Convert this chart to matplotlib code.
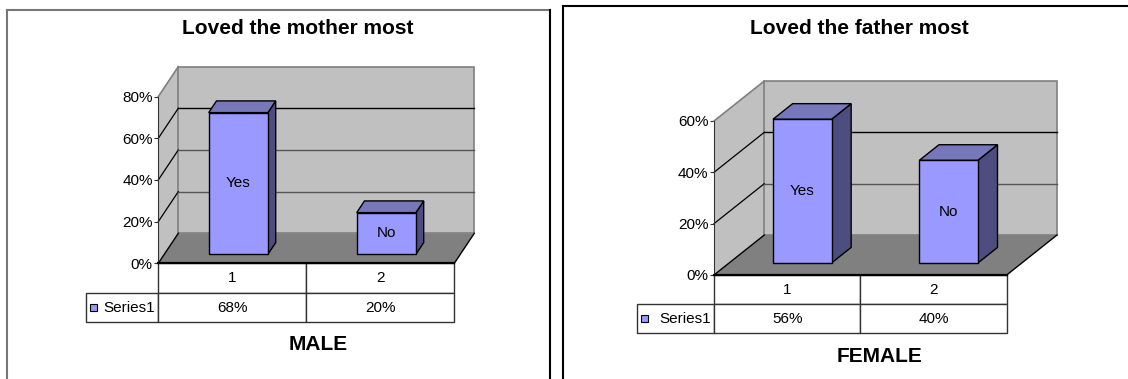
import matplotlib
matplotlib.use('Agg')
import matplotlib.pyplot as plt
from matplotlib.patches import Polygon, Rectangle
from matplotlib.lines import Line2D

plt.rcParams['font.family'] = ['Liberation Sans', 'DejaVu Sans']

# data
categories = ['1', '2']
bar_labels = ['Yes', 'No']
series_name = 'Series1'
male_values = [68, 20]
female_values = [56, 40]
male_ticks = [0, 20, 40, 60, 80]
female_ticks = [0, 20, 40, 60]
male_title = 'Loved the mother most'
female_title = 'Loved the father most'
male_caption = 'MALE'
female_caption = 'FEMALE'

W, H = 1128, 379

FRONT = '#9999FF'
TOP = '#7777BB'
SIDE = '#4D4D80'
WALL = '#C0C0C0'
FLOOR = '#808080'
EDGE = '#808080'


def px_rect(x_left, y_zero, x_right, y_top):
	# pixel box of the front plane -> figure fraction
	return [x_left / W, 1 - y_zero / H, (x_right - x_left) / W, (y_zero - y_top) / H]


def fig_line(fig, xs, ys, color, lw=1.5):
	fig.add_artist(Line2D([x / W for x in xs], [1 - y / H for y in ys],
		transform=fig.transFigure, color=color, lw=lw))


def DrawChart(fig, rect, values, ticks, dx, dy, row_px, legend_px):

	ax = fig.add_axes(rect)
	n = len(values)
	ymax = ticks[-1]
	ax.set_xlim(0, n)
	ax.set_ylim(0, ymax)
	ax.patch.set_visible(False)
	for s in ['top', 'right', 'bottom']:
		ax.spines[s].set_visible(False)
	ax.spines['left'].set_color('#333333')
	ax.spines['left'].set_zorder(6)
	ax.set_xticks([])
	ax.set_yticks(ticks)
	ax.set_yticklabels(['%d%%' % t for t in ticks])
	ax.tick_params(axis='y', length=3, direction='out', labelsize=11, pad=1, color='#333333')

	kw = dict(clip_on=False)

	# walls and floor
	ax.add_patch(Polygon([(0, 0), (0, ymax), (dx, ymax + dy), (dx, dy)], fc=WALL, ec='none', zorder=1, **kw))
	ax.add_patch(Polygon([(dx, dy), (dx, ymax + dy), (n + dx, ymax + dy), (n + dx, dy)], fc=WALL, ec=EDGE, lw=1.2, zorder=1, **kw))
	ax.plot([0, dx], [ymax, ymax + dy], color=EDGE, lw=1.2, zorder=2, **kw)
	ax.add_patch(Polygon([(0, 0), (n, 0), (n + dx, dy), (dx, dy)], fc=FLOOR, ec='none', zorder=3, **kw))
	ax.plot([n, n + dx], [0, dy], color='black', lw=1, zorder=4, **kw)
	ax.plot([0, dx], [0, dy], color='black', lw=1, zorder=4, **kw)

	# gridlines on the walls
	for t in ticks[1:-1]:
		c = 'black' if t == ticks[-2] else '#555555'
		ax.plot([0, dx], [t, t + dy], color='black', lw=0.9, zorder=2, **kw)
		ax.plot([dx, n + dx], [t + dy, t + dy], color=c, lw=1, zorder=2, **kw)

	# bars
	bw = 0.4
	d0, d1 = 0.30, 0.69
	dd = d1 - d0
	for i, v in enumerate(values):
		xf = i + 0.5 - bw / 2 + d0 * dx
		yb = d0 * dy
		ax.add_patch(Polygon([(xf + bw, yb), (xf + bw + dd * dx, yb + dd * dy),
			(xf + bw + dd * dx, yb + v + dd * dy), (xf + bw, yb + v)],
			fc=SIDE, ec='black', lw=1, zorder=5, **kw))
		ax.add_patch(Polygon([(xf, yb + v), (xf + bw, yb + v),
			(xf + bw + dd * dx, yb + v + dd * dy), (xf + dd * dx, yb + v + dd * dy)],
			fc=TOP, ec='black', lw=1, zorder=5, **kw))
		ax.add_patch(Rectangle((xf, yb), bw, v, fc=FRONT, ec='black', lw=1, zorder=5, **kw))
		ax.text(xf + bw / 2, yb + v / 2, bar_labels[i], ha='center', va='center', fontsize=11, zorder=6)

	# floor front edge
	ax.plot([0, n], [0, 0], color='black', lw=1.6, zorder=7, **kw)

	# data table
	ax_w = rect[2] * W
	ax_h = rect[3] * H
	rh = row_px / ax_h
	x0 = -legend_px / ax_w
	cell_text = [[''] + categories, [''] + ['%d%%' % v for v in values]]
	tb = ax.table(cellText=cell_text, cellLoc='center', colWidths=[-x0, 0.5, 0.5],
		bbox=[x0, -2 * rh, 1 - x0, 2 * rh])
	tb.auto_set_font_size(False)
	tb.set_fontsize(11)
	for key, cell in tb.get_celld().items():
		cell.set_edgecolor('#333333')
		cell.set_linewidth(1)
	tb[0, 0].visible_edges = 'open'

	# legend key inside the table
	ax.add_patch(Rectangle((x0 + 4.5 / ax_w, -1.5 * rh - 3.5 / ax_h), 7 / ax_w, 7 / ax_h,
		fc=FRONT, ec='black', lw=0.8, zorder=8, transform=ax.transAxes, **kw))
	ax.text(-3.5 / ax_w, -1.5 * rh, series_name, ha='right', va='center', fontsize=11,
		transform=ax.transAxes)

	return ax


fig = plt.figure(figsize=(W / 100, H / 100), dpi=100)

# panel frames
fig_line(fig, [7, 550], [10, 10], '#777777')
fig_line(fig, [7, 7], [10, 379], '#777777')
fig_line(fig, [550, 550], [10, 379], 'black')
fig_line(fig, [563, 1128], [6, 6], 'black')
fig_line(fig, [563, 563], [6, 379], 'black')

# MALE chart
DrawChart(fig, px_rect(158.3, 263.3, 454.3, 96.6), male_values, male_ticks,
	20 / 148.0, 30 / 2.084, 29.5, 72.5)
fig.text(297.5 / W, 1 - 34.5 / H, male_title, ha='center', va='baseline', fontsize=15, fontweight='bold')
fig.text(318.5 / W, 1 - 350.5 / H, male_caption, ha='center', va='baseline', fontsize=15, fontweight='bold')

# FEMALE chart
DrawChart(fig, px_rect(714, 275, 1006.7, 121), female_values, female_ticks,
	50.3 / 146.35, 40 / 2.567, 29.2, 77.3)
fig.text(859 / W, 1 - 34.5 / H, female_title, ha='center', va='baseline', fontsize=15, fontweight='bold')
fig.text(880 / W, 1 - 361.5 / H, female_caption, ha='center', va='baseline', fontsize=15, fontweight='bold')

fig.savefig('out.png', dpi=100)
